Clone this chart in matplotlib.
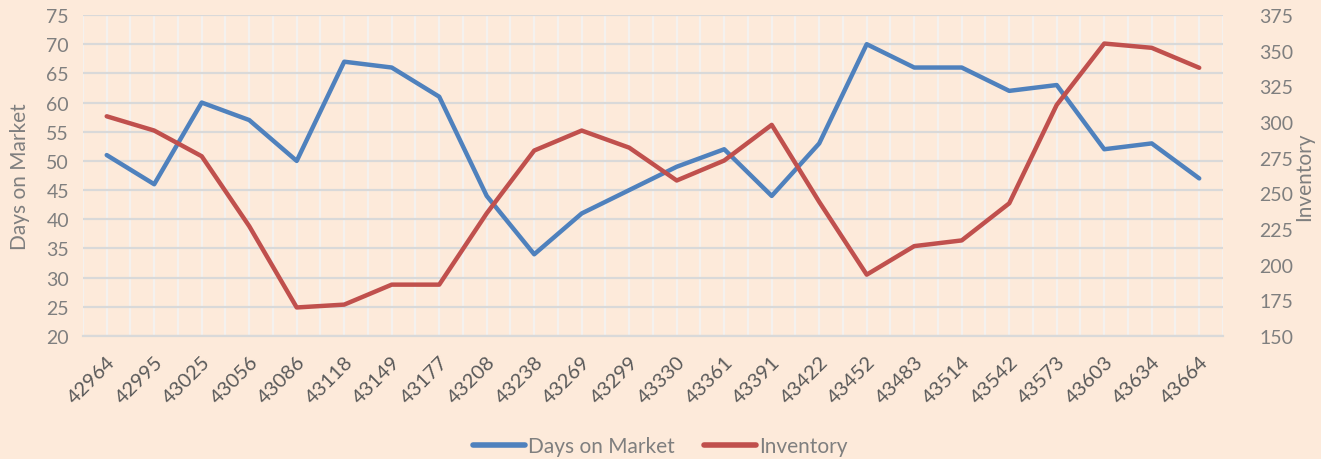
import numpy as np
import matplotlib.pyplot as plt

# data
dates = ['42964', '42995', '43025', '43056', '43086', '43118', '43149', '43177',
         '43208', '43238', '43269', '43299', '43330', '43361', '43391', '43422',
         '43452', '43483', '43514', '43542', '43573', '43603', '43634', '43664']
days_on_market = [51, 46, 60, 57, 50, 67, 66, 61, 44, 34, 41, 45,
                  49, 52, 44, 53, 70, 66, 66, 62, 63, 52, 53, 47]
inventory = [304, 294, 276, 227, 170, 172, 186, 186, 236, 280, 294, 282,
             259, 273, 298, 244, 193, 213, 217, 243, 312, 355, 352, 338]

bg = '#FDEADA'
txt = '#7F7F7F'
dark = '#595959'
blue = '#4F81BD'
red = '#C0504D'

plt.rcParams['font.family'] = ['Lato', 'DejaVu Sans']

fig = plt.figure(figsize=(13.21, 4.6), dpi=100, facecolor=bg)
ax = fig.add_axes([0.0628, 0.2674, 0.863, 0.6978])
ax.set_facecolor(bg)
ax2 = ax.twinx()

x = np.arange(len(dates))

# grid
for v in np.arange(-0.5, len(dates), 0.5):
    ax.axvline(v, color='#F4F1EE', lw=1.6, zorder=0)
ax.set_ylim(20, 75)
ax.set_yticks(np.arange(20, 76, 5))
ax.yaxis.grid(True, color='#D9D9D9', lw=1.6, zorder=1)
ax.set_axisbelow(True)

l1, = ax.plot(x, days_on_market, color=blue, lw=3.2, solid_capstyle='round',
              solid_joinstyle='round', label='Days on Market', zorder=3)
l2, = ax2.plot(x, inventory, color=red, lw=3.2, solid_capstyle='round',
               solid_joinstyle='round', label='Inventory', zorder=3)

ax.set_xlim(-0.5, len(dates) - 0.5)
ax2.set_ylim(150, 375)
ax2.set_yticks(np.arange(150, 376, 25))

ax.set_xticks(x)
ax.set_xticklabels(dates, rotation=45, ha='right', rotation_mode='anchor')

for a in (ax, ax2):
    for s in a.spines.values():
        s.set_visible(False)
    a.tick_params(length=0, colors=txt, labelsize=14)
ax.spines['bottom'].set_visible(True)
ax.spines['bottom'].set_color('#D9D9D9')
ax.spines['bottom'].set_linewidth(1.6)
ax.tick_params(axis='x', pad=12, labelcolor=dark, labelsize=14.5)
ax.tick_params(axis='y', pad=10)
ax2.tick_params(axis='y', pad=26)

ax.set_ylabel('Days on Market', color=txt, fontsize=15, labelpad=12)
ax2.set_ylabel('Inventory', color=txt, fontsize=15, labelpad=1)

leg = fig.legend(handles=[l1, l2], loc='lower center', bbox_to_anchor=(0.5, -0.035),
                 ncol=2, frameon=False, fontsize=15, labelcolor=txt,
                 handlelength=2.5, handletextpad=0.15, columnspacing=1.4)
for h in leg.legend_handles:
    h.set_linewidth(4)

fig.savefig('out.png', dpi=100, facecolor=bg)
